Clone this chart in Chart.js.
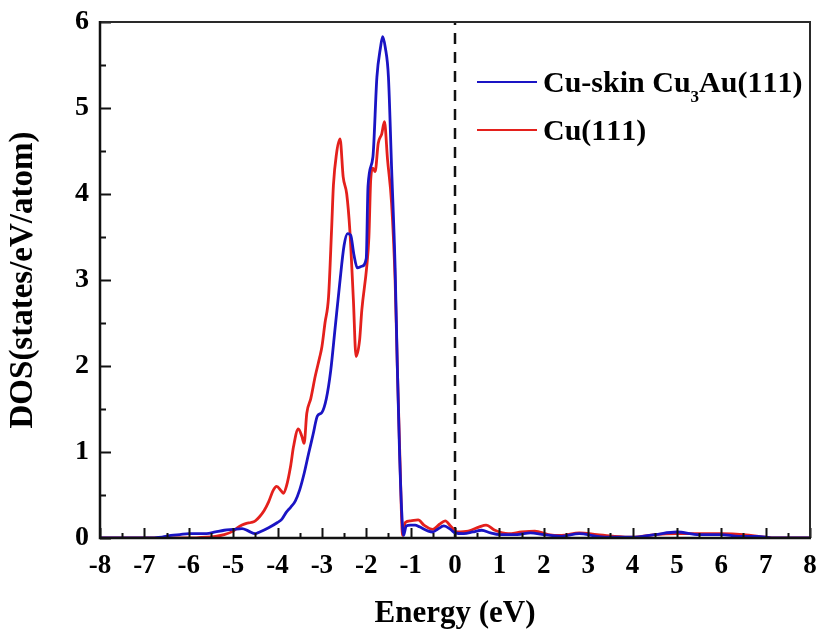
<!DOCTYPE html>
<html>
<head>
<meta charset="utf-8">
<script src="https://cdn.jsdelivr.net/npm/chart.js@4.4.1/dist/chart.umd.min.js"></script>
<style>
  html, body { margin: 0; padding: 0; background: #ffffff; }
  #wrap { width: 816px; height: 629px; }
</style>
</head>
<body>
<div id="wrap"><canvas id="c" width="816" height="629"></canvas></div>
<script>
// ---------- data ----------
const seriesLabels = ['Cu-skin Cu\u2083Au(111)', 'Cu(111)'];

const cuSkinEnergy = [-8, -7, -6.6, -6.4, -6.2, -6.0, -5.8, -5.6, -5.4, -5.2, -5.0, -4.8, -4.65, -4.5, -4.4, -4.2, -4.0, -3.9, -3.8, -3.7, -3.6, -3.5, -3.4, -3.3, -3.2, -3.1, -3.0, -2.9, -2.8, -2.7, -2.6, -2.5, -2.42, -2.35, -2.28, -2.2, -2.1, -2.0, -1.96, -1.85, -1.76, -1.68, -1.63, -1.57, -1.5, -1.43, -1.35, -1.3, -1.25, -1.2, -1.16, -1.1, -1.0, -0.9, -0.8, -0.6, -0.5, -0.4, -0.25, -0.1, 0, 0.2, 0.4, 0.6, 0.8, 1.0, 1.4, 1.7, 2.0, 2.4, 2.8, 3.2, 3.5, 4.0, 4.5, 5.0, 5.5, 6.0, 6.4, 6.8, 7.2, 8];
const cuSkinDos    = [0, 0, 0.01, 0.03, 0.04, 0.05, 0.05, 0.05, 0.07, 0.09, 0.10, 0.11, 0.08, 0.05, 0.07, 0.12, 0.18, 0.22, 0.30, 0.36, 0.43, 0.56, 0.75, 0.98, 1.20, 1.42, 1.46, 1.62, 1.95, 2.45, 2.95, 3.40, 3.54, 3.52, 3.30, 3.14, 3.16, 3.25, 4.09, 4.43, 5.36, 5.70, 5.83, 5.70, 5.36, 4.32, 3.15, 2.00, 1.00, 0.30, 0.03, 0.14, 0.15, 0.15, 0.13, 0.08, 0.07, 0.10, 0.14, 0.10, 0.06, 0.05, 0.07, 0.09, 0.06, 0.04, 0.04, 0.06, 0.04, 0.02, 0.05, 0.02, 0.01, 0.01, 0.04, 0.07, 0.04, 0.04, 0.02, 0.02, 0.0, 0];

const cuEnergy = [-8, -6, -5.6, -5.4, -5.2, -5.0, -4.9, -4.8, -4.7, -4.6, -4.5, -4.4, -4.3, -4.2, -4.1, -4.02, -3.92, -3.87, -3.8, -3.7, -3.64, -3.53, -3.45, -3.40, -3.34, -3.25, -3.15, -3.05, -3.0, -2.93, -2.85, -2.78, -2.74, -2.67, -2.59, -2.52, -2.44, -2.37, -2.29, -2.23, -2.15, -2.1, -1.99, -1.94, -1.9, -1.85, -1.8, -1.73, -1.65, -1.59, -1.52, -1.43, -1.35, -1.3, -1.24, -1.18, -1.12, -1.0, -0.83, -0.7, -0.5, -0.35, -0.22, -0.1, 0.05, 0.3, 0.55, 0.7, 0.9, 1.2, 1.5, 1.8, 2.1, 2.4, 2.8, 3.2, 3.6, 4.0, 4.5, 5.0, 5.5, 6.0, 6.5, 7.0, 7.2, 8];
const cuDos    = [0, 0, 0.01, 0.02, 0.04, 0.08, 0.12, 0.15, 0.17, 0.18, 0.20, 0.25, 0.32, 0.42, 0.55, 0.60, 0.55, 0.52, 0.60, 0.85, 1.06, 1.27, 1.18, 1.10, 1.45, 1.62, 1.88, 2.10, 2.22, 2.50, 2.80, 3.60, 4.10, 4.47, 4.64, 4.20, 4.00, 3.58, 2.77, 2.11, 2.30, 2.65, 3.15, 3.50, 4.16, 4.30, 4.26, 4.59, 4.70, 4.84, 4.40, 3.90, 3.00, 2.00, 0.90, 0.03, 0.18, 0.20, 0.21, 0.15, 0.10, 0.16, 0.20, 0.14, 0.07, 0.08, 0.13, 0.15, 0.09, 0.05, 0.07, 0.08, 0.04, 0.03, 0.06, 0.04, 0.02, 0.01, 0.04, 0.05, 0.05, 0.05, 0.04, 0.01, 0, 0];

const fermiEnergy = 0;
const xTicks = [-8, -7, -6, -5, -4, -3, -2, -1, 0, 1, 2, 3, 4, 5, 6, 7, 8];
const yTicks = [0, 1, 2, 3, 4, 5, 6];

// ---------- helpers ----------
const toPoints = (xs, ys) => xs.map((x, i) => ({ x: x, y: ys[i] }));
const FONT = '"Liberation Serif", "Times New Roman", serif';
const BLUE = '#1a14c4';
const RED = '#e4201c';

const frameTicksPlugin = {
  id: 'frameTicks',
  afterDatasetsDraw(chart) {
    const ctx = chart.ctx;
    const a = chart.chartArea;
    const xs = chart.scales.x, ys = chart.scales.y;
    ctx.save();
    // ticks (inward)
    ctx.strokeStyle = '#111';
    ctx.lineWidth = 2;
    ctx.beginPath();
    for (let v = xTicks[0]; v <= xTicks[xTicks.length - 1] + 1e-9; v += 0.5) {
      const px = Math.round(xs.getPixelForValue(v)) + 0.5;
      const major = Math.abs(v - Math.round(v)) < 1e-6;
      ctx.moveTo(px, a.bottom);
      ctx.lineTo(px, a.bottom - (major ? 10 : 5));
    }
    for (let v = yTicks[0]; v <= yTicks[yTicks.length - 1] + 1e-9; v += 0.5) {
      const py = Math.round(ys.getPixelForValue(v)) + 0.5;
      const major = Math.abs(v - Math.round(v)) < 1e-6;
      ctx.moveTo(a.left, py);
      ctx.lineTo(a.left + (major ? 11 : 6), py);
    }
    ctx.stroke();
    // frame
    ctx.strokeStyle = '#2a2a2a';
    ctx.lineWidth = 2;
    ctx.beginPath();
    ctx.moveTo(a.left, a.top);
    ctx.lineTo(a.right, a.top);
    ctx.lineTo(a.right, a.bottom);
    ctx.stroke();
    ctx.strokeStyle = '#111';
    ctx.lineWidth = 2.5;
    ctx.beginPath();
    ctx.moveTo(a.left, a.top - 1);
    ctx.lineTo(a.left, a.bottom);
    ctx.lineTo(a.right + 1, a.bottom);
    ctx.stroke();

    // legend
    const subs = { '\u2080':'0','\u2081':'1','\u2082':'2','\u2083':'3','\u2084':'4','\u2085':'5','\u2086':'6','\u2087':'7','\u2088':'8','\u2089':'9' };
    const items = chart.data.datasets.filter(d => !d.hideInLegend);
    const x0 = a.left + 377, x1 = a.left + 437, tx = a.left + 443;
    items.forEach((d, i) => {
      const ly = a.top + 60 + i * 48;
      ctx.strokeStyle = d.borderColor;
      ctx.lineWidth = 2;
      ctx.beginPath();
      ctx.moveTo(x0, ly);
      ctx.lineTo(x1, ly);
      ctx.stroke();
      let cx = tx;
      const base = ly + 10;
      ctx.fillStyle = '#000';
      ctx.textBaseline = 'alphabetic';
      ctx.textAlign = 'left';
      for (const ch of d.label) {
        if (subs[ch]) {
          ctx.font = 'bold 17px ' + FONT;
          ctx.fillText(subs[ch], cx, base + 10);
          cx += ctx.measureText(subs[ch]).width;
        } else {
          ctx.font = 'bold 30px ' + FONT;
          ctx.fillText(ch, cx, base);
          cx += ctx.measureText(ch).width;
        }
      }
    });
    ctx.restore();
  }
};

const ctx = document.getElementById('c').getContext('2d');
new Chart(ctx, {
  type: 'line',
  data: {
    datasets: [
      {
        label: seriesLabels[0],
        data: toPoints(cuSkinEnergy, cuSkinDos),
        borderColor: BLUE,
        borderWidth: 2.8,
        pointRadius: 0,
        cubicInterpolationMode: 'monotone',
        fill: false
      },
      {
        label: seriesLabels[1],
        data: toPoints(cuEnergy, cuDos),
        borderColor: RED,
        borderWidth: 2.8,
        pointRadius: 0,
        cubicInterpolationMode: 'monotone',
        fill: false
      },
      {
        label: 'Fermi level',
        hideInLegend: true,
        data: [{ x: fermiEnergy, y: yTicks[0] }, { x: fermiEnergy, y: yTicks[yTicks.length - 1] }],
        borderColor: '#111',
        borderWidth: 2.5,
        borderDash: [11, 8],
        pointRadius: 0,
        fill: false
      }
    ]
  },
  options: {
    responsive: false,
    animation: false,
    devicePixelRatio: 1,
    layout: { padding: { left: 0, right: 6, top: 22, bottom: 0 } },
    plugins: {
      legend: { display: false },
      tooltip: { enabled: false }
    },
    scales: {
      x: {
        type: 'linear',
        min: xTicks[0],
        max: xTicks[xTicks.length - 1],
        grid: { display: false, drawTicks: false },
        border: { display: false },
        afterBuildTicks: (s) => { s.ticks = xTicks.map(v => ({ value: v })); },
        afterFit: (s) => { s.height = 91; s.paddingLeft = 0; s.paddingRight = 0; },
        ticks: {
          color: '#000',
          padding: 12,
          maxRotation: 0,
          autoSkip: false,
          font: { family: FONT, size: 27, weight: 'bold' },
          callback: (v) => String(v)
        },
        title: {
          display: true,
          text: 'Energy (eV)',
          color: '#000',
          padding: { top: 0, bottom: 0 },
          font: { family: FONT, size: 31, weight: 'bold', lineHeight: 1.0 }
        }
      },
      y: {
        type: 'linear',
        min: yTicks[0],
        max: yTicks[yTicks.length - 1],
        grid: { display: false, drawTicks: false },
        border: { display: false },
        afterBuildTicks: (s) => { s.ticks = yTicks.map(v => ({ value: v })); },
        afterFit: (s) => { s.width = 100; s.paddingTop = 0; s.paddingBottom = 0; },
        ticks: {
          color: '#000',
          padding: 11,
          autoSkip: false,
          font: { family: FONT, size: 28, weight: 'bold' },
          callback: (v) => String(v)
        },
        title: {
          display: true,
          text: 'DOS(states/eV/atom)',
          color: '#000',
          padding: { top: 5, bottom: 0 },
          font: { family: FONT, size: 33, weight: 'bold', lineHeight: 1.1 }
        }
      }
    }
  },
  plugins: [frameTicksPlugin]
});
</script>
</body>
</html>
